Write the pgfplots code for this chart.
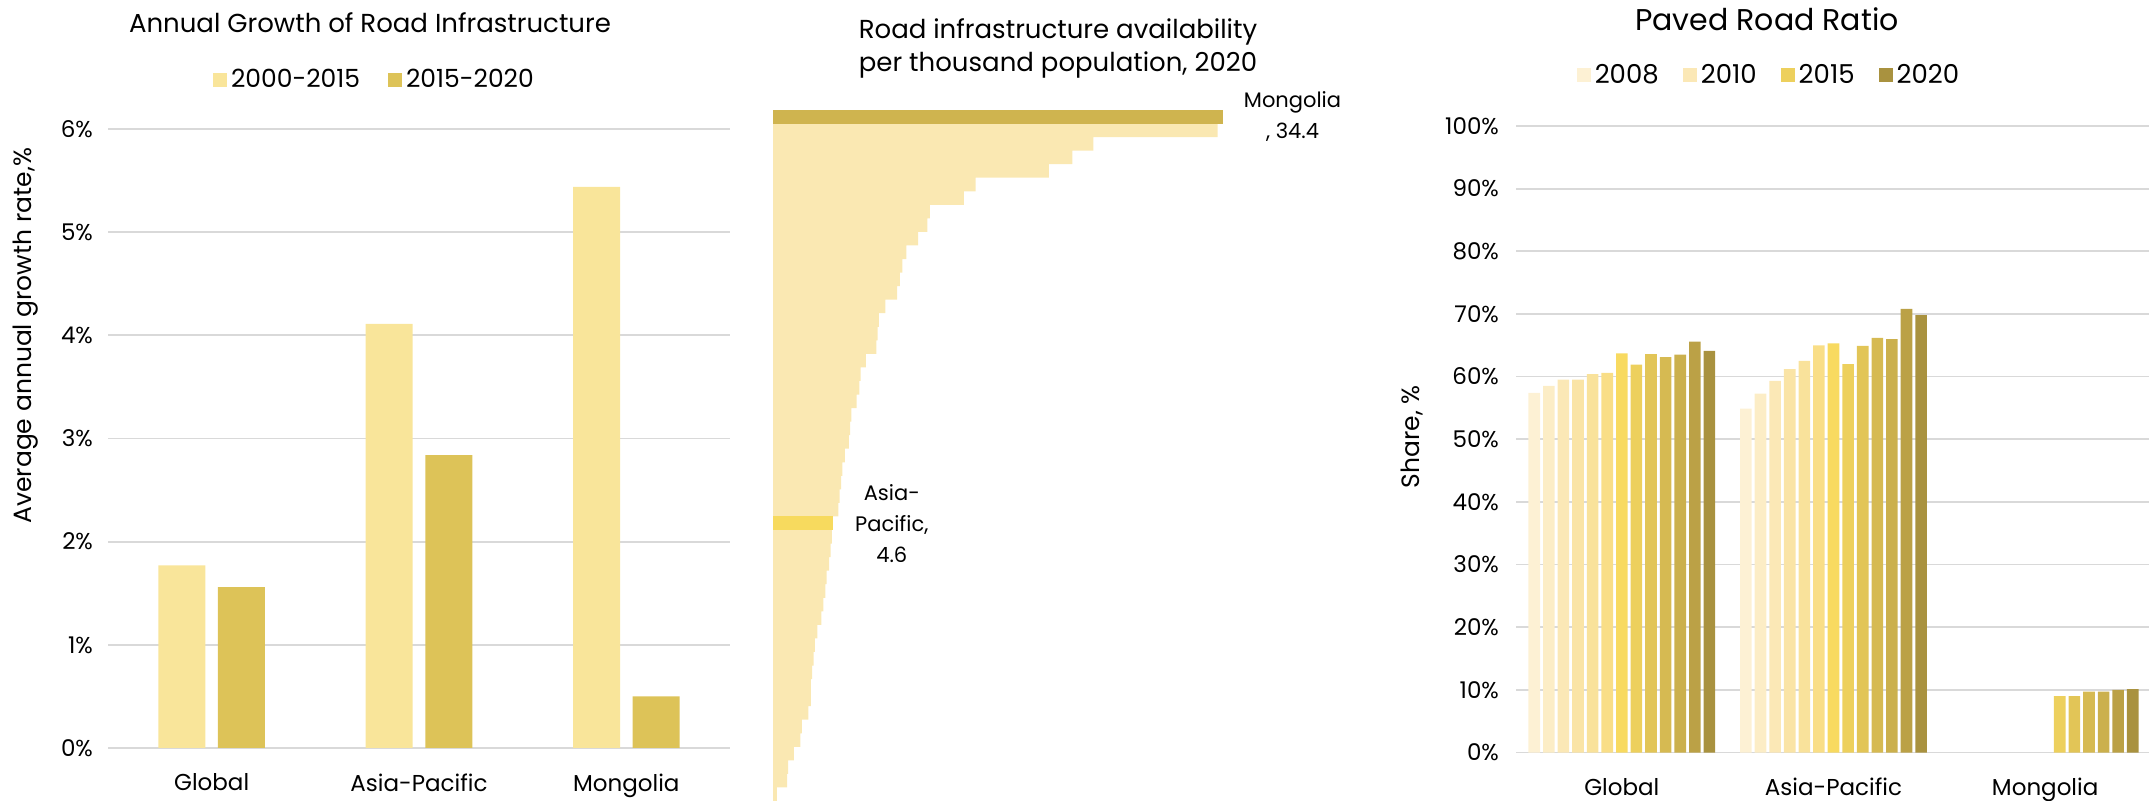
\documentclass[border=0pt]{standalone}
\usepackage{fontspec}
\setmainfont{Poppins}
\usepackage{pgfplots}
\pgfplotsset{compat=1.18}

\definecolor{gridgray}{HTML}{D9D9D9}
\definecolor{growA}{HTML}{F9E59A}
\definecolor{growB}{HTML}{DDC358}
\definecolor{availOther}{HTML}{FAE8B2}
\definecolor{availMng}{HTML}{CFB44F}
\definecolor{availAP}{HTML}{F7DA5E}
\definecolor{c08}{HTML}{FDF1D4}
\definecolor{c09}{HTML}{FCEDC6}
\definecolor{c10}{HTML}{FBE8B6}
\definecolor{c11}{HTML}{FAE4A6}
\definecolor{c12}{HTML}{F9E29B}
\definecolor{c13}{HTML}{F9DE87}
\definecolor{c14}{HTML}{F8DA60}
\definecolor{c15}{HTML}{EDD05D}
\definecolor{c16}{HTML}{E2C557}
\definecolor{c17}{HTML}{D6BA52}
\definecolor{c18}{HTML}{CBB04D}
\definecolor{c19}{HTML}{BBA146}
\definecolor{c20}{HTML}{A9923F}

\pgfplotsset{
  sqlegend/.style={
    legend image code/.code={\fill[##1] (0pt,-3.5pt) rectangle (7pt,3.5pt);}},
  panel/.style={
    scale only axis,
    anchor=south west,
    axis line style={draw=none},
    tick style={draw=none},
    ymajorgrids,
    major grid style={gridgray, line width=0.9pt},
    tick label style={font=\fontsize{11.5}{13}\selectfont},
    legend style={draw=none, fill=none, legend columns=-1},
  },
}

\begin{document}
\begin{tikzpicture}
\path[use as bounding box] (0pt,0pt) rectangle (1074.5pt,-400.5pt);

% left: annual growth
\begin{axis}[panel,
  at={(54pt,-374pt)}, width=311pt, height=309.5pt,
  xmin=-0.5, xmax=2.5, ymin=0, ymax=6,
  ybar=6.3pt, bar width=23.5pt,
  every axis plot/.append style={sqlegend},
  xtick={0,1,2}, xticklabels={Global,Asia-Pacific,Mongolia},
  xticklabel style={yshift=-5pt},
  ytick={0,1,2,3,4,5,6},
  yticklabels={0\%,1\%,2\%,3\%,4\%,5\%,6\%},
  yticklabel style={xshift=-4pt},
  ylabel={Average annual growth rate,\%},
  ylabel style={at={(axis description cs:-0.133,0.666)}, anchor=center,
    font=\fontsize{12.5}{14}\selectfont},
  legend style={at={(axis description cs:0.43,1.079)}, anchor=center,
    font=\fontsize{12.5}{14}\selectfont,
    /tikz/every even column/.append style={column sep=12pt}},
]
\addplot[fill=growA, draw=none] coordinates {(0,1.77) (1,4.11) (2,5.44)};
\addplot[fill=growB, draw=none] coordinates {(0,1.56) (1,2.84) (2,0.50)};
\legend{2000-2015,2015-2020}
\end{axis}
\node[font=\fontsize{13}{15}\selectfont] at (185pt,-11.5pt) {Annual Growth of Road Infrastructure};

% middle: availability per thousand population
\begin{axis}[
  scale only axis, anchor=south west,
  at={(386.5pt,-400.5pt)}, width=235.4pt, height=345.5pt,
  xmin=0, xmax=36, ymin=-0.5, ymax=50.5,
  hide axis, clip=false,
  xbar, bar width=6.775pt,
]
\addplot[fill=availOther, draw=none, bar shift=0pt] coordinates {
  (34.0,49) (24.5,48) (22.9,47) (21.1,46) (15.5,45) (14.6,44) (12.0,43)
  (11.8,42) (11.1,41) (10.2,40) (9.9,39) (9.7,38) (9.5,37) (8.6,36)
  (8.1,35) (8.0,34) (7.9,33) (7.1,32) (6.7,31) (6.6,30) (6.4,29)
  (6.0,28) (5.9,27) (5.8,26) (5.5,25) (5.3,24) (5.2,23) (5.1,22)
  (5.0,21) (4.5,19) (4.4,18) (4.3,17) (4.1,16) (4.0,15)
  (3.85,14) (3.7,13) (3.4,12) (3.2,11) (3.1,10) (3.0,9) (2.9,8)
  (2.9,7) (2.7,6) (2.2,5) (2.1,4) (1.6,3) (1.15,2) (1.07,1) (0.3,0)
};
\addplot[fill=availMng, draw=none, bar shift=0pt] coordinates {(34.4,50)};
\addplot[fill=availAP, draw=none, bar shift=0pt] coordinates {(4.6,20)};
\node[anchor=west, align=center, font=\fontsize{10.5}{15.5}\selectfont, xshift=7pt]
  at (axis cs:34.4,50) {Mongolia\\, 34.4};
\node[anchor=west, align=center, font=\fontsize{10.5}{15.5}\selectfont, xshift=7.5pt]
  at (axis cs:4.6,20) {Asia-\\Pacific,\\4.6};
\end{axis}
\node[align=center, font=\fontsize{13}{16.5}\selectfont] at (529pt,-24.25pt)
  {Road infrastructure availability\\per thousand population, 2020};

% right: paved road ratio
\begin{axis}[panel,
  at={(758pt,-376.25pt)}, width=317.5pt, height=313.25pt,
  xmin=-0.5, xmax=2.5, ymin=0, ymax=100,
  ybar, bar width=5.8pt,
  every axis plot/.append style={sqlegend},
  xtick={0,1,2}, xticklabels={Global,Asia-Pacific,Mongolia},
  xticklabel style={yshift=-5pt},
  ytick={0,10,...,100},
  yticklabels={0\%,10\%,20\%,30\%,40\%,50\%,60\%,70\%,80\%,90\%,100\%},
  yticklabel style={xshift=-5pt},
  ylabel={Share, \%},
  ylabel style={at={(axis description cs:-0.164,0.504)}, anchor=center,
    font=\fontsize{12.5}{14}\selectfont},
  legend style={at={(axis description cs:0.40,1.081)}, anchor=center,
    font=\fontsize{13}{15}\selectfont,
    /tikz/every even column/.append style={column sep=10pt}},
]
\addplot[fill=c08, draw=none, bar shift=-43.8pt] coordinates {(0,57.4) (1,54.9)};
\addlegendentry{2008}
\addplot[fill=c09, draw=none, bar shift=-36.5pt, forget plot] coordinates {(0,58.5) (1,57.3)};
\addplot[fill=c10, draw=none, bar shift=-29.2pt] coordinates {(0,59.5) (1,59.3)};
\addlegendentry{2010}
\addplot[fill=c11, draw=none, bar shift=-21.9pt, forget plot] coordinates {(0,59.5) (1,61.2)};
\addplot[fill=c12, draw=none, bar shift=-14.6pt, forget plot] coordinates {(0,60.4) (1,62.5)};
\addplot[fill=c13, draw=none, bar shift=-7.3pt, forget plot] coordinates {(0,60.6) (1,65.0)};
\addplot[fill=c14, draw=none, bar shift=0pt, forget plot] coordinates {(0,63.7) (1,65.3)};
\addplot[fill=c15, draw=none, bar shift=7.3pt] coordinates {(0,61.9) (1,62.0) (2,9.0)};
\addlegendentry{2015}
\addplot[fill=c16, draw=none, bar shift=14.6pt, forget plot] coordinates {(0,63.6) (1,64.9) (2,9.0)};
\addplot[fill=c17, draw=none, bar shift=21.9pt, forget plot] coordinates {(0,63.1) (1,66.2) (2,9.7)};
\addplot[fill=c18, draw=none, bar shift=29.2pt, forget plot] coordinates {(0,63.5) (1,66.0) (2,9.7)};
\addplot[fill=c19, draw=none, bar shift=36.5pt, forget plot] coordinates {(0,65.6) (1,70.8) (2,10.0)};
\addplot[fill=c20, draw=none, bar shift=43.8pt] coordinates {(0,64.1) (1,69.8) (2,10.1)};
\addlegendentry{2020}
\end{axis}
\node[font=\fontsize{15}{17}\selectfont] at (883.5pt,-9.5pt) {Paved Road Ratio};
\end{tikzpicture}
\end{document}
